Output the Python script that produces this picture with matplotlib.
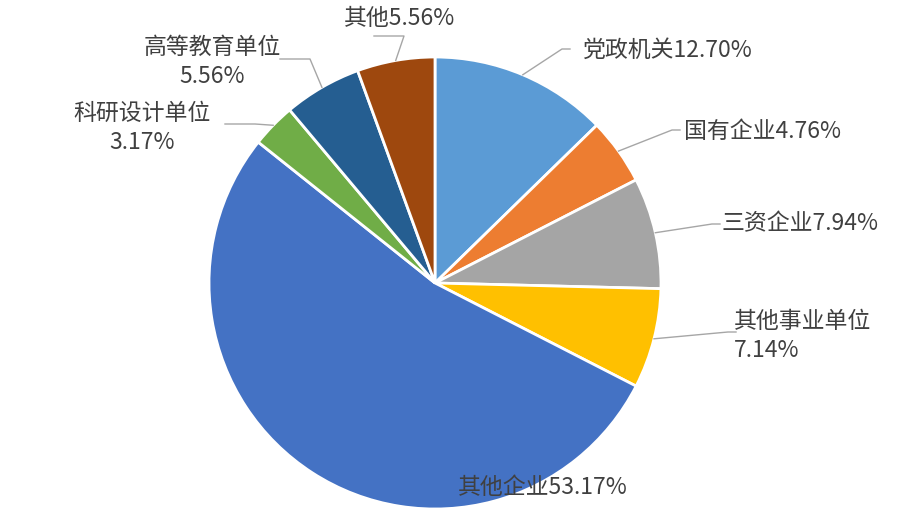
import numpy as np
import matplotlib.pyplot as plt

plt.rcParams['font.family'] = ['Noto Sans CJK SC', 'DejaVu Sans']

# 数据
names = ["党政机关", "国有企业", "三资企业", "其他事业单位", "其他企业",
         "科研设计单位", "高等教育单位", "其他"]
values = [12.70, 4.76, 7.94, 7.14, 53.17, 3.17, 5.56, 5.56]
colors = ["#5B9BD5", "#ED7D31", "#A5A5A5", "#FFC000", "#4472C4",
          "#70AD47", "#255E91", "#9E480E"]
labels = ["党政机关12.70%", "国有企业4.76%", "三资企业7.94%", "其他事业单位\n7.14%",
          "其他企业53.17%", "科研设计单位\n3.17%", "高等教育单位\n5.56%", "其他5.56%"]

# label placement in pixels: (elbow x, elbow y, text x, text y, ha)
W, H = 909, 509
cx, cy, R = 435, 283, 226
lab_pos = [
    (562, 49, 583, 50, "left"),
    (672, 130, 684, 131, "left"),
    (712, 224, 722, 224, "left"),
    (728, 332, 734, 336, "left"),
    (None, None, 543, 488, "center"),
    (255, 124, 142, 128, "center"),
    (310, 59, 212, 62, "center"),
    (404, 36, 400, 18, "center"),
]


def px(x, y):
    return (x - cx) / R, (cy - y) / R


fig = plt.figure(figsize=(W / 100, H / 100), dpi=100)
ax = fig.add_axes([0, 0, 1, 1])
wedges, _ = ax.pie(values, colors=colors, startangle=90, counterclock=False,
                   radius=1.0, wedgeprops=dict(edgecolor="white", linewidth=2))

txt_color = "#404040"
line_color = "#A6A6A6"
for w, lab, pos in zip(wedges, labels, lab_pos):
    ex, ey, tx, ty, ha = pos
    ang = np.deg2rad((w.theta1 + w.theta2) / 2)
    sx, sy = np.cos(ang), np.sin(ang)
    if ex is not None:
        exd, eyd = px(ex, ey)
        if ha == "left":
            endx = exd + 8 / R
        else:
            endx = exd - 30 / R
        ax.plot([sx, exd, endx], [sy, eyd, eyd], color=line_color, lw=1)
    txd, tyd = px(tx, ty)
    ax.text(txd, tyd, lab, ha=ha, va="center", fontsize=16.5,
            color=txt_color, linespacing=1.3)

ax.set_xlim(-cx / R, (W - cx) / R)
ax.set_ylim(-(H - cy) / R, cy / R)
ax.set_aspect("equal", adjustable="box")
ax.axis("off")

fig.savefig("out.png", dpi=100)
